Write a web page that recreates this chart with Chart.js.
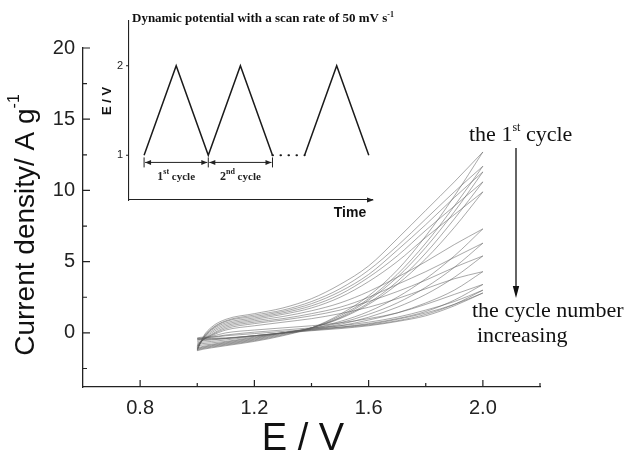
<!DOCTYPE html>
<html>
<head>
<meta charset="utf-8">
<script src="https://cdn.jsdelivr.net/npm/chart.js@4.4.0/dist/chart.umd.min.js"></script>
<style>
  body { margin: 0; background: #fff; }
  #wrap { position: relative; width: 628px; height: 452px; }
  #wrap canvas { position: absolute; left: 0; top: 0; }
</style>
</head>
<body>
<div id="wrap">
  <canvas id="main" width="628" height="452"></canvas>
  <canvas id="inset" width="628" height="452"></canvas>
</div>
<script>
// potential grid (V) shared by every sweep
const potential = [1.0, 1.02, 1.05, 1.1, 1.2, 1.3, 1.4, 1.5, 1.6, 1.7, 1.8, 1.9, 2.0];

// anodic sweeps 1.0 -> 2.0 V, one row per cycle (A g-1)
const forwardSweeps = [
    [-1.25, -0.3, 0.4, 0.95, 1.35, 1.75, 2.4, 3.4, 4.7, 6.6, 8.6, 10.6, 12.7],
    [-1.2, -0.35, 0.3, 0.85, 1.25, 1.6, 2.2, 3.1, 4.4, 6.1, 8.0, 9.9, 11.7],
    [-1.15, -0.4, 0.25, 0.8, 1.15, 1.5, 2.05, 2.9, 4.1, 5.8, 7.6, 9.5, 11.3],
    [-1.1, -0.4, 0.2, 0.7, 1.05, 1.4, 1.9, 2.7, 3.9, 5.4, 7.2, 8.9, 10.6],
    [-1.05, -0.45, 0.1, 0.6, 0.95, 1.3, 1.75, 2.5, 3.6, 5.0, 6.7, 8.3, 9.9],
    [-1.0, -0.5, 0.0, 0.5, 0.85, 1.15, 1.55, 2.1, 2.9, 3.9, 5.0, 6.2, 7.3],
    [-0.95, -0.5, -0.1, 0.4, 0.75, 1.0, 1.35, 1.8, 2.5, 3.4, 4.3, 5.3, 6.3],
    [-0.9, -0.5, -0.15, 0.3, 0.65, 0.9, 1.2, 1.6, 2.2, 2.9, 3.7, 4.6, 5.4],
    [-0.8, -0.5, -0.2, 0.2, 0.5, 0.75, 1.0, 1.35, 1.8, 2.4, 3.1, 3.8, 4.3],
    [-0.5, -0.4, -0.25, 0.0, 0.2, 0.35, 0.5, 0.7, 1.0, 1.4, 2.0, 2.7, 3.4],
    [-0.4, -0.35, -0.3, -0.15, 0.05, 0.2, 0.35, 0.5, 0.75, 1.1, 1.6, 2.2, 3.0],
    [-0.35, -0.3, -0.3, -0.2, -0.05, 0.1, 0.25, 0.4, 0.6, 0.95, 1.4, 2.0, 2.8]
];

// cathodic sweeps back from 2.0 V, listed on the same ascending grid
const reverseSweeps = [
    [-1.25, -1.15, -1.05, -0.9, -0.6, -0.2, 0.35, 1.3, 2.6, 4.4, 6.8, 9.6, 12.7],
    [-1.2, -1.1, -1.0, -0.85, -0.55, -0.15, 0.35, 1.2, 2.4, 4.1, 6.3, 8.9, 11.7],
    [-1.15, -1.05, -0.95, -0.8, -0.5, -0.1, 0.35, 1.1, 2.3, 3.9, 6.0, 8.5, 11.3],
    [-1.1, -1.0, -0.9, -0.75, -0.45, -0.05, 0.35, 1.05, 2.1, 3.6, 5.6, 8.0, 10.6],
    [-1.05, -0.95, -0.85, -0.7, -0.4, 0.0, 0.35, 1.0, 2.0, 3.4, 5.2, 7.4, 9.9],
    [-0.9, -0.85, -0.8, -0.65, -0.35, 0.0, 0.3, 0.8, 1.5, 2.5, 3.8, 5.4, 7.3],
    [-0.8, -0.75, -0.7, -0.6, -0.3, 0.0, 0.3, 0.7, 1.3, 2.1, 3.2, 4.6, 6.3],
    [-0.7, -0.65, -0.6, -0.5, -0.25, 0.0, 0.25, 0.6, 1.1, 1.8, 2.7, 3.9, 5.4],
    [-0.6, -0.55, -0.5, -0.4, -0.2, 0.0, 0.25, 0.5, 0.9, 1.4, 2.1, 3.0, 4.3],
    [-0.5, -0.48, -0.45, -0.4, -0.2, 0.0, 0.2, 0.4, 0.65, 1.0, 1.5, 2.3, 3.4],
    [-0.45, -0.43, -0.42, -0.38, -0.2, 0.0, 0.18, 0.35, 0.55, 0.85, 1.3, 2.0, 3.0],
    [-0.4, -0.4, -0.38, -0.35, -0.2, -0.02, 0.15, 0.3, 0.5, 0.8, 1.2, 1.9, 2.8]
];

const xTicks = [0.8, 1.2, 1.6, 2.0];
const xMinorTicks = [1.0, 1.4, 1.8, 2.2];
const yTicks = [0, 5, 10, 15, 20];
const yMinorTicks = [-2.5, 2.5, 7.5, 12.5, 17.5];

// inset: applied potential programme against time
const insetTime = [0, 1, 2, 3, 4];
const insetPotential = [1, 2, 1, 2, 1];
const gapTime = [4, 5];
const gapPotential = [1, 1];
const lastTime = [5, 6, 7];
const lastPotential = [1, 2, 1];
const insetYTicks = [1, 2];
const cycleBounds = [0, 2, 4];
const cycleNames = [['1', 'st'], ['2', 'nd']];

const SERIF = '"Liberation Serif", "Times New Roman", serif';
const SANS = '"Liberation Sans", Arial, sans-serif';

// draws a run of text pieces, each with its own font and vertical shift
function drawPieces(ctx, pieces, x, y, align) {
    let total = 0;
    pieces.forEach(p => { ctx.font = p.font; total += ctx.measureText(p.text).width; });
    let cx = align === 'center' ? x - total / 2 : x;
    ctx.textAlign = 'left';
    ctx.textBaseline = 'alphabetic';
    pieces.forEach(p => {
        ctx.font = p.font;
        ctx.fillText(p.text, cx, y + (p.dy || 0));
        cx += ctx.measureText(p.text).width;
    });
}

function arrowHead(ctx, x, y, dx, dy, len, half) {
    // tip at (x, y) pointing along (dx, dy)
    ctx.beginPath();
    ctx.moveTo(x, y);
    ctx.lineTo(x - dx * len - dy * half, y - dy * len + dx * half);
    ctx.lineTo(x - dx * len + dy * half, y - dy * len - dx * half);
    ctx.closePath();
    ctx.fill();
}

function sweepDataset(values) {
    return {
        data: values.map((v, k) => ({ x: potential[k], y: v })),
        borderColor: 'rgba(95, 95, 95, 0.6)',
        borderWidth: 0.9,
        pointRadius: 0,
        fill: false,
        cubicInterpolationMode: 'monotone'
    };
}

const cvData = [];
forwardSweeps.forEach((row, i) => {
    cvData.push(sweepDataset(row));
    cvData.push(sweepDataset(reverseSweeps[i]));
});

const mainDecor = {
    id: 'mainDecor',
    afterDraw(chart) {
        const { ctx, chartArea, scales: { x, y } } = chart;
        ctx.save();
        ctx.strokeStyle = '#222';
        ctx.lineWidth = 1.2;
        ctx.beginPath();
        yTicks.forEach(v => { const p = y.getPixelForValue(v); ctx.moveTo(chartArea.left, p); ctx.lineTo(chartArea.left + 7, p); });
        yMinorTicks.forEach(v => { const p = y.getPixelForValue(v); ctx.moveTo(chartArea.left, p); ctx.lineTo(chartArea.left + 4, p); });
        xTicks.forEach(v => { const p = x.getPixelForValue(v); ctx.moveTo(p, chartArea.bottom); ctx.lineTo(p, chartArea.bottom - 7); });
        xMinorTicks.forEach(v => { const p = x.getPixelForValue(v); ctx.moveTo(p, chartArea.bottom); ctx.lineTo(p, chartArea.bottom - 4); });
        ctx.stroke();

        ctx.fillStyle = '#111';
        // axis titles
        ctx.save();
        ctx.translate(34, 225);
        ctx.rotate(-Math.PI / 2);
        drawPieces(ctx, [
            { text: 'Current density/ A g', font: '28px ' + SANS },
            { text: '-1', font: '16px ' + SANS, dy: -15 }
        ], 0, 0, 'center');
        ctx.restore();
        drawPieces(ctx, [{ text: 'E / V', font: '38px ' + SANS }], 303, 450, 'center');

        // cycle annotation
        drawPieces(ctx, [
            { text: 'the 1', font: '22px ' + SERIF },
            { text: 'st', font: '12px ' + SERIF, dy: -10 },
            { text: ' cycle', font: '22px ' + SERIF }
        ], 469, 141, 'left');
        drawPieces(ctx, [{ text: 'the cycle number', font: '22px ' + SERIF }], 472, 317, 'left');
        drawPieces(ctx, [{ text: 'increasing', font: '22px ' + SERIF }], 477, 342, 'left');

        ctx.strokeStyle = '#111';
        ctx.lineWidth = 1.3;
        ctx.beginPath();
        ctx.moveTo(516, 148);
        ctx.lineTo(516, 290);
        ctx.stroke();
        arrowHead(ctx, 516, 298, 0, 1, 12, 3.2);
        ctx.restore();
    }
};

new Chart(document.getElementById('main'), {
    type: 'line',
    data: { datasets: cvData },
    options: {
        responsive: false,
        animation: false,
        layout: { padding: { left: 0, top: 48, right: 88, bottom: 0 } },
        plugins: { legend: { display: false }, tooltip: { enabled: false } },
        scales: {
            x: {
                type: 'linear',
                min: 0.6,
                max: 2.2,
                afterBuildTicks: s => { s.ticks = xTicks.map(v => ({ value: v })); },
                afterFit: s => { s.height = 65; },
                grid: { display: false, drawTicks: false },
                border: { color: '#222', width: 1.3 },
                ticks: { padding: 9, color: '#222', font: { family: SANS, size: 20 }, callback: v => v.toFixed(1) }
            },
            y: {
                type: 'linear',
                min: -3.8,
                max: 20,
                afterBuildTicks: s => { s.ticks = yTicks.map(v => ({ value: v })); },
                afterFit: s => { s.width = 83; },
                grid: { display: false, drawTicks: false },
                border: { color: '#222', width: 1.3 },
                ticks: { padding: 8, color: '#222', font: { family: SANS, size: 20 } }
            }
        }
    },
    plugins: [mainDecor]
});

function lineSet(times, values, extra) {
    return Object.assign({
        data: times.map((t, k) => ({ x: t, y: values[k] })),
        borderColor: '#1a1a1a',
        borderWidth: 1.5,
        pointRadius: 0,
        fill: false,
        tension: 0
    }, extra || {});
}

const insetDecor = {
    id: 'insetDecor',
    afterDraw(chart) {
        const { ctx, chartArea, scales: { x, y } } = chart;
        ctx.save();
        ctx.strokeStyle = '#222';
        ctx.fillStyle = '#222';
        ctx.lineWidth = 1.1;
        ctx.beginPath();
        insetYTicks.forEach(v => { const p = y.getPixelForValue(v); ctx.moveTo(chartArea.left - 3, p); ctx.lineTo(chartArea.left, p); });
        ctx.stroke();
        arrowHead(ctx, chartArea.right + 2, chartArea.bottom, 1, 0, 7, 2.6);

        // cycle spans with double arrows
        const yy = y.getPixelForValue(0.92);
        ctx.lineWidth = 1;
        ctx.beginPath();
        cycleBounds.forEach(t => { const p = x.getPixelForValue(t); ctx.moveTo(p, yy - 5); ctx.lineTo(p, yy + 5); });
        for (let i = 0; i < cycleBounds.length - 1; i++) {
            ctx.moveTo(x.getPixelForValue(cycleBounds[i]) + 1, yy);
            ctx.lineTo(x.getPixelForValue(cycleBounds[i + 1]) - 1, yy);
        }
        ctx.stroke();
        for (let i = 0; i < cycleBounds.length - 1; i++) {
            const a = x.getPixelForValue(cycleBounds[i]);
            const b = x.getPixelForValue(cycleBounds[i + 1]);
            arrowHead(ctx, a + 1, yy, -1, 0, 6, 2.5);
            arrowHead(ctx, b - 1, yy, 1, 0, 6, 2.5);
            const mid = x.getPixelForValue((cycleBounds[i] + cycleBounds[i + 1]) / 2);
            drawPieces(ctx, [
                { text: cycleNames[i][0], font: 'bold 12px ' + SERIF },
                { text: cycleNames[i][1], font: 'bold 8px ' + SERIF, dy: -6 },
                { text: ' cycle', font: 'bold 11px ' + SERIF }
            ], mid, y.getPixelForValue(0.72), 'center');
        }

        ctx.fillStyle = '#111';
        drawPieces(ctx, [
            { text: 'Dynamic potential with a scan rate of 50 mV s', font: 'bold 13px ' + SERIF },
            { text: '-1', font: 'bold 8px ' + SERIF, dy: -5 }
        ], 132, 22, 'left');
        drawPieces(ctx, [{ text: 'Time', font: 'bold 14px ' + SANS }], 350, 217, 'center');
        ctx.save();
        ctx.translate(111, 101);
        ctx.rotate(-Math.PI / 2);
        drawPieces(ctx, [{ text: 'E / V', font: 'bold 13px ' + SANS }], 0, 0, 'center');
        ctx.restore();
        ctx.restore();
    }
};

new Chart(document.getElementById('inset'), {
    type: 'line',
    data: {
        datasets: [
            lineSet(insetTime, insetPotential),
            lineSet(gapTime, gapPotential, { borderDash: [0.5, 7.5], borderCapStyle: 'round', borderWidth: 2 }),
            lineSet(lastTime, lastPotential)
        ]
    },
    options: {
        responsive: false,
        animation: false,
        layout: { padding: { left: 129 - 30, top: 21, right: 628 - 372, bottom: 452 - 200 - 10 } },
        plugins: { legend: { display: false }, tooltip: { enabled: false } },
        scales: {
            x: {
                type: 'linear',
                min: -0.47,
                max: 7.1,
                ticks: { display: false },
                afterFit: s => { s.height = 10; },
                grid: { display: false, drawTicks: false },
                border: { color: '#222', width: 1.1 }
            },
            y: {
                type: 'linear',
                min: 0.5,
                max: 2.5,
                afterBuildTicks: s => { s.ticks = insetYTicks.map(v => ({ value: v })); },
                afterFit: s => { s.width = 30; },
                grid: { display: false, drawTicks: false },
                border: { color: '#222', width: 1.1 },
                ticks: { padding: 6, color: '#222', font: { family: SANS, size: 11 } }
            }
        }
    },
    plugins: [insetDecor]
});
</script>
</body>
</html>
